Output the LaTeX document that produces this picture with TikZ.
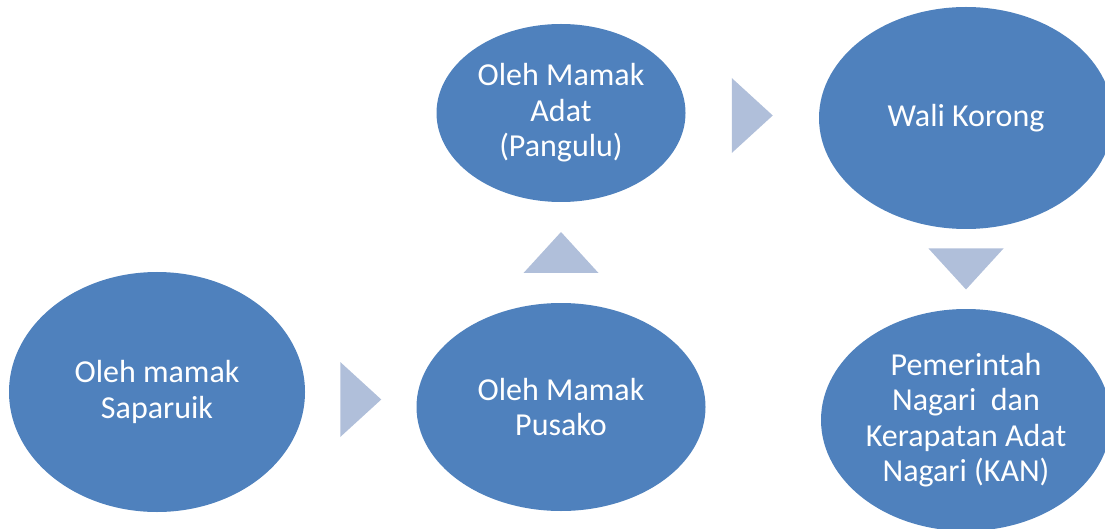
\documentclass[tikz,border=0pt]{standalone}
\usepackage{fontspec}
\setmainfont{Carlito}
\usepackage{tikz}
\usetikzlibrary{shapes,calc}
\definecolor{stageblue}{HTML}{4F81BD}
\definecolor{chevblue}{HTML}{B0BFDA}
\tikzstyle{stage}=[ellipse,fill=stageblue,text=white,inner sep=0pt,align=center,
                   font=\fontsize{32}{35.5}\selectfont]
\tikzstyle{chev}=[fill=chevblue]
\newcommand{\chev}[4]{\path (#1) -- coordinate[pos=0.5] (#4) (#2);
  \fill[chev,shift={(#4)},rotate=#3] (-20.5,-37.5) -- (-20.5,37.5) -- (20.5,0) -- cycle;}
\begin{document}
\begin{tikzpicture}[x=1pt,y=-1pt]
  \useasboundingbox (0,0) rectangle (1105,529);
  \clip (0,0) rectangle (1105,529);

  \node[stage,minimum width=296pt,minimum height=240pt] (saparuik) at (157,392) {Oleh mamak\\Saparuik};
  \node[stage,minimum width=289pt,minimum height=208pt] (pusako) at (561,407) {Oleh Mamak\\Pusako};
  \node[stage,minimum width=249pt,minimum height=178pt] (pangulu) at (561,113) {Oleh Mamak\\Adat\\(Pangulu)};
  \node[stage,minimum width=294pt,minimum height=222pt] (korong) at (966,118) {Wali Korong};
  \node[stage,minimum width=290pt,minimum height=222pt] (kan) at (966,420) {Pemerintah\\Nagari\ \ dan\\Kerapatan Adat\\Nagari (KAN)};

  \chev{saparuik.east}{pusako.west}{0}{c1}
  \chev{pusako.north}{pangulu.south}{90}{c2}
  \chev{pangulu.east}{korong.west}{0}{c3}
  \chev{korong.south}{kan.north}{-90}{c4}
\end{tikzpicture}
\end{document}
